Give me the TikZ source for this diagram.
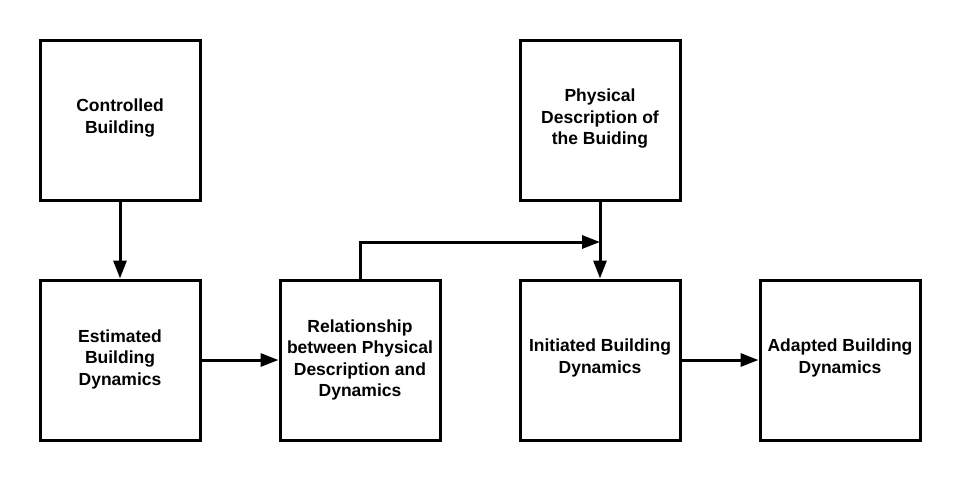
\documentclass[tikz,border=0pt]{standalone}
\usepackage{fontspec}
\setmainfont{Liberation Sans}
\usetikzlibrary{arrows.meta}
\begin{document}
\begin{tikzpicture}[x=1pt,y=-1pt,
  box/.style={draw=black,line width=3pt,minimum width=160pt,minimum height=160pt,inner sep=0pt},
  lbl/.style={align=center,font=\fontsize{17.5pt}{21.5pt}\selectfont\bfseries,inner sep=0pt},
  conn/.style={line width=3pt,-{Triangle[length=18pt,width=13pt]}}]
\useasboundingbox (0,0) rectangle (960,480);
\node[box] (cb) at (120,120) {};
\node[box] (pd) at (600,120) {};
\node[box] (eb) at (120,360) {};
\node[box] (rel) at (360,360) {};
\node[box] (ib) at (600,360) {};
\node[box] (ab) at (840,360) {};
\node[lbl] (cbt) at ([yshift=2pt]cb.center) {Controlled\\Building};
\node[lbl] (pdt) at ([yshift=1pt]pd.center) {Physical\\Description of\\the Buiding};
\node[lbl] (ebt) at ([yshift=1pt]eb.center) {Estimated\\Building\\Dynamics};
\node[lbl] (relt) at (rel.center) {Relationship\\between Physical\\Description and\\Dynamics};
\node[lbl] (ibt) at ([yshift=2pt]ib.center) {Initiated Building\\Dynamics};
\node[lbl] (abt) at ([yshift=2pt]ab.center) {Adapted Building\\Dynamics};
\coordinate (j) at (600,242);
\draw[conn] (cb.south) -- (eb.north);
\draw[conn] (eb.east) -- (rel.west);
\draw[conn] (rel.north) |- (j);
\draw[conn] (pd.south) -- (ib.north);
\draw[conn] (ib.east) -- (ab.west);
\end{tikzpicture}
\end{document}
